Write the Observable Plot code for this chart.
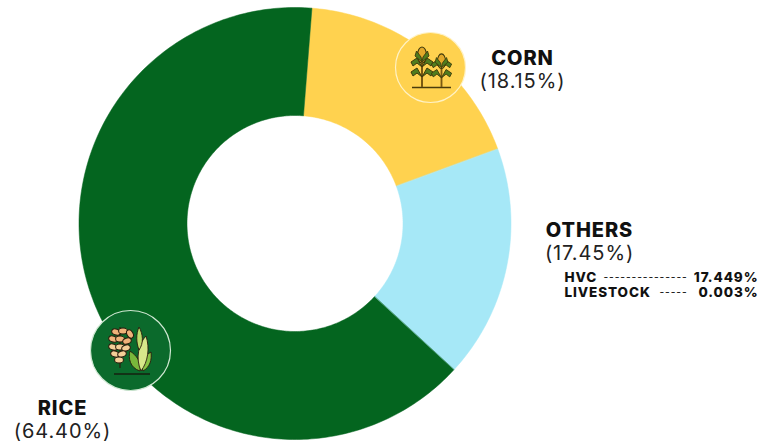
<!DOCTYPE html>
<html>
<head>
<meta charset="utf-8">
<script src="https://cdn.jsdelivr.net/npm/d3@7"></script>
<script src="https://cdn.jsdelivr.net/npm/@observablehq/plot@0.6"></script>
<style>
html,body{margin:0;padding:0;background:#fff;}
svg{display:block;}
g[aria-label="text"]{letter-spacing:0.9px;}
</style>
</head>
<body>
<div id="chart"></div>
<script>
// Production shares, percent
const crops = ["CORN", "OTHERS", "RICE"];
const shares = [18.15, 17.45, 64.40];
const sliceColors = ["#ffd24f", "#a6e8f7", "#04651f"];

// Label text
const labelNames = ["CORN", "OTHERS", "RICE"];
const labelShares = ["(18.15%)", "(17.45%)", "(64.40%)"];
const labelX = [522, 589, 62];
const labelNameY = [58.5, 230.5, 408.5];
const labelShareY = [81.5, 253.5, 431.5];
const detailNames = ["HVC", "LIVESTOCK"];
const detailLeaders = ["---------------", "-----"];
const detailValues = ["17.449%", "0.003%"];
const detailY = [277, 292];

// Donut geometry in chart units
const cx = 294.5, cy = 223, outerR = 216, innerR = 108;
const startAngle = 4.5 * Math.PI / 180;

const pie = d3.pie().sort(null).startAngle(startAngle).endAngle(startAngle + 2 * Math.PI);
const arcs = pie(shares);

// Each slice becomes a closed ring polygon traced by a filled line
const ringPoints = arcs.flatMap((a, i) => {
  const steps = Math.ceil((a.endAngle - a.startAngle) / (Math.PI / 180));
  const pts = [];
  for (let s = 0; s <= steps; ++s) {
    const t = a.startAngle + (a.endAngle - a.startAngle) * s / steps;
    pts.push({crop: crops[i], x: cx + outerR * Math.sin(t), y: cy - outerR * Math.cos(t)});
  }
  for (let s = steps; s >= 0; --s) {
    const t = a.startAngle + (a.endAngle - a.startAngle) * s / steps;
    pts.push({crop: crops[i], x: cx + innerR * Math.sin(t), y: cy - innerR * Math.cos(t)});
  }
  return pts;
});

const font = "Inter, 'Open Sans', sans-serif";

// Corn plant pictogram
function cornIcon(g) {
  const dark = "#3f3a0c", leaf = "#4f7d1e", cob = "#e2a92a";
  const plant = (x, base, h, s) => {
    const p = g.append("g").attr("transform", `translate(${x},${base}) scale(${s})`);
    p.append("path").attr("d", `M0,0V${-h}`).attr("stroke", "#7a5a12").attr("stroke-width", 2).attr("fill", "none");
    for (const y of [-10, -20]) for (const d of [-1, 1]) {
      p.append("path")
        .attr("d", `M0,${y}L${d * 5},${y - 9}L${d * 11},${y - 5}L${d * 9},${y - 1}L${d * 5},${y - 4}Z`)
        .attr("fill", leaf).attr("stroke", dark).attr("stroke-width", 1).attr("stroke-linejoin", "round");
    }
    p.append("ellipse").attr("cx", 0).attr("cy", -h - 3).attr("rx", 4.4).attr("ry", 8)
      .attr("fill", cob).attr("stroke", dark).attr("stroke-width", 1.1);
    for (const d of [-1, 1]) {
      p.append("path")
        .attr("d", `M0,${-h + 4}L${d * 7},${-h - 2}L${d * 5.5},${-h - 7}L${d},${-h - 1}Z`)
        .attr("fill", leaf).attr("stroke", dark).attr("stroke-width", 0.9).attr("stroke-linejoin", "round");
    }
  };
  g.append("path").attr("d", "M412,87.5H451").attr("stroke", "#4a3c0c").attr("stroke-width", 1.5);
  plant(422, 87, 29, 1);
  plant(441.5, 87, 25, 0.92);
}

// Rice stalk and leaf pictogram
function riceIcon(g) {
  const dark = "#2a1b0c";
  const grains = [[116, 332, 20], [123, 331, 0], [130, 334, 60], [113, 339, 20], [120, 339, 0], [127, 341, -20],
    [113, 347, 20], [120, 347, 0], [126, 348, -20], [115, 354, 20], [122, 354, -20], [119, 360, 0]];
  g.append("path").attr("d", "M120,327V368").attr("stroke", dark).attr("stroke-width", 1.1);
  for (const [x, y, r] of grains) {
    g.append("ellipse").attr("rx", 4.4).attr("ry", 3)
      .attr("transform", `translate(${x},${y}) rotate(${r})`)
      .attr("fill", y < 345 ? "#eeb27a" : "#f3cf98").attr("stroke", dark).attr("stroke-width", 1);
  }
  const leaves = [
    ["M140,371C130,368 128,358 130,351C136,355 142,362 140,371Z", "#79b83b"],
    ["M143,371C150,367 152,360 151,352C145,355 140,364 143,371Z", "#8cc646"],
    ["M141,371C135,358 139,343 146,336C150,348 148,362 141,371Z", "#d8e88a"],
    ["M139,350C136,342 136,334 139,327C143,334 144,343 139,350Z", "#bcdc6b"]
  ];
  for (const [d, fill] of leaves) {
    g.append("path").attr("d", d).attr("fill", fill).attr("stroke", dark).attr("stroke-width", 0.9);
  }
  g.append("path").attr("d", "M114,374H150").attr("stroke", "#16200f").attr("stroke-width", 1.4);
}

const iconMark = draw => () => {
  const g = d3.create("svg:g");
  draw(g);
  return g.node();
};

const chart = Plot.plot({
  width: 761,
  height: 445,
  margin: 0,
  style: {background: "#ffffff", overflow: "visible"},
  x: {domain: [0, 761], range: [0, 761], axis: null},
  y: {domain: [0, 445], range: [0, 445], axis: null},
  color: {domain: crops, range: sliceColors},
  marks: [
    Plot.line(ringPoints, {x: "x", y: "y", z: "crop", fill: "crop", stroke: "crop", strokeWidth: 0.5, curve: "linear-closed"}),
    Plot.dot([{x: 430, y: 67}], {x: "x", y: "y", r: 35, fill: "#ffd24f", stroke: "#fff2c4", strokeWidth: 1.2}),
    Plot.dot([{x: 130, y: 350}], {x: "x", y: "y", r: 40, fill: "#0b6a2c", stroke: "#cfe8d2", strokeWidth: 1.2}),
    iconMark(cornIcon),
    iconMark(riceIcon),
    Plot.text(labelNames, {x: (d, i) => labelX[i], y: (d, i) => labelNameY[i], text: d => d, fontFamily: font, fontWeight: 800, fontSize: 20, fill: "#111"}),
    Plot.text(labelShares, {x: (d, i) => labelX[i], y: (d, i) => labelShareY[i], text: d => d, fontFamily: font, fontWeight: 400, fontSize: 20, fill: "#222"}),
    Plot.text(detailNames, {x: 564, y: (d, i) => detailY[i], text: d => d, textAnchor: "start", fontFamily: font, fontWeight: 800, fontSize: 13.5, fill: "#111"}),
    Plot.text(detailLeaders, {x: [603, 659], y: (d, i) => detailY[i], text: d => d, textAnchor: "start", fontFamily: font, fontWeight: 500, fontSize: 10.2, fill: "#222"}),
    Plot.text(detailValues, {x: 758, y: (d, i) => detailY[i], text: d => d, textAnchor: "end", fontFamily: font, fontWeight: 800, fontSize: 13.5, fill: "#111"})
  ]
});
document.getElementById("chart").append(chart);
</script>
</body>
</html>
